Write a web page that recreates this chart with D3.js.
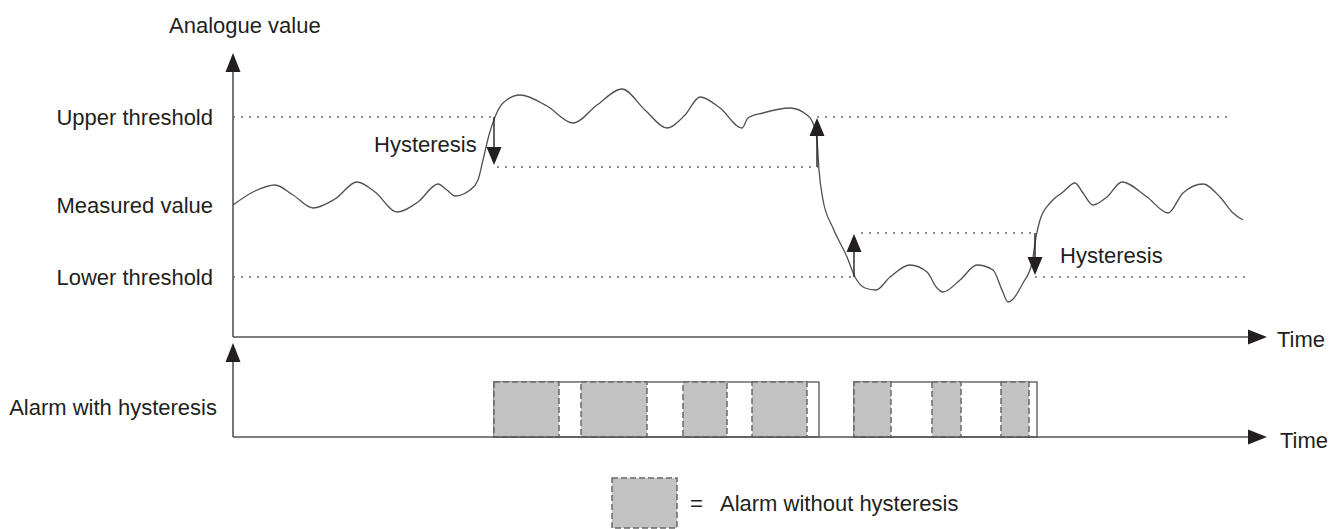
<!DOCTYPE html>
<html>
<head>
<meta charset="utf-8">
<script src="https://cdn.jsdelivr.net/npm/d3@7"></script>
<style>
  html, body { margin: 0; padding: 0; background: #fff; }
  svg { display: block; }
  text { font-family: "Liberation Sans", Arial, Helvetica, sans-serif; font-size: 22px; fill: #231f20; }
</style>
</head>
<body>
<svg id="chart" width="1338" height="529"></svg>
<script>
// ---------- DATA ----------
// measured analogue value over time: [time, value]
const measured = [
  [0,66],[11,73],[21,76],[30,71],[40,64.5],[51,69],[62,77.5],[71,72.5],[82,62.5],[92.5,67.5],
  [102.5,76.5],[107,73.5],[111,70.5],[118.5,73.5],[122.5,78.5],[125,88.5],[128,101],[131,110],
  [135,117],[143.5,121],[157,115.5],[170,107],[182,116],[194.5,124],[206,113.5],[217,104.5],
  [226,111],[233.5,120],[243.5,114.5],[254.5,104.5],[257.5,109.5],[265,112],[278.5,114.5],
  [287,111],[290,107],[292,98.5],[293,83.5],[295,68.5],[300,54.5],[307,40],[311,30],
  [316,24.5],[321.5,23.5],[328.5,30],[338.5,36],[347,32.5],[352,24.5],[355,22.5],[363.5,28.5],
  [372,36],[380,33.5],[384.5,23.5],[387.5,17.5],[395,27],[399.5,37],[401.5,50],[403.5,58.5],
  [408.5,67],[415,72.5],[421,77],[425,72],[430,66],[437,70],[444.5,77.5],[457,70],[467.5,62],
  [475,72],[485,76.5],[493.5,70],[500,62],[505,58.5]
];
const upperThreshold = 110;
const upperReset = 85;
const lowerThreshold = 30;
const lowerReset = 52;

// dotted reference lines: [value, tStart, tEnd]
const refLines = [
  [upperThreshold, 0, 131], [upperThreshold, 292, 499],
  [upperReset, 132, 292.5],
  [lowerThreshold, 0, 310.5], [lowerThreshold, 401, 508.5],
  [lowerReset, 314, 400]
];
// hysteresis arrows: [time, fromValue, toValue]
const hystArrows = [
  [130.5, upperThreshold, upperReset],
  [292, upperReset, upperThreshold],
  [310.5, lowerThreshold, lowerReset],
  [401, lowerReset, lowerThreshold]
];
// alarm intervals [tStart, tEnd]
const alarmWithHyst = [[130.5, 293], [310.5, 402]];
const alarmWithoutHyst = [[130.5,163],[174,207],[225,247],[259.5,287],[310.5,329],[349.5,364],[384,398]];

const yLabels = [
  ["Upper threshold", upperThreshold],
  ["Measured value", 66],
  ["Lower threshold", lowerThreshold]
];

// ---------- SCALES ----------
const svg = d3.select("#chart");
const x = d3.scaleLinear().domain([0, 517]).range([233, 1267]);
const y = d3.scaleLinear().domain([0, 145]).range([337, 47]);
const ya = d3.scaleLinear().domain([0, 1]).range([437, 382]);

const ink = "#231f20";

function arrowHead(g, tx, ty, dir, w, h) {
  let pts;
  if (dir === "up") pts = [[tx, ty], [tx - w/2, ty + h], [tx + w/2, ty + h]];
  else if (dir === "down") pts = [[tx, ty], [tx - w/2, ty - h], [tx + w/2, ty - h]];
  else pts = [[tx, ty], [tx - h, ty - w/2], [tx - h, ty + w/2]];
  g.append("path").attr("d", "M" + pts.map(p => p.join(",")).join("L") + "Z").attr("fill", ink);
}

// ---------- REFERENCE DOTTED LINES ----------
svg.append("g").selectAll("line").data(refLines).join("line")
  .attr("x1", d => x(d[1])).attr("x2", d => x(d[2]))
  .attr("y1", d => y(d[0])).attr("y2", d => y(d[0]))
  .attr("stroke", "#6d6d6d").attr("stroke-width", 1.5)
  .attr("stroke-dasharray", "2 6");

// ---------- AXES ----------
const ax = svg.append("g");
ax.append("line").attr("x1", x(0)).attr("x2", x(0)).attr("y1", y(0)).attr("y2", 66)
  .attr("stroke", "#555").attr("stroke-width", 1.6);
arrowHead(ax, x(0), 53, "up", 15, 19);
ax.append("line").attr("x1", x(0)).attr("x2", 1252).attr("y1", y(0)).attr("y2", y(0))
  .attr("stroke", "#555").attr("stroke-width", 1.6);
arrowHead(ax, 1267, y(0), "right", 15, 19);

ax.append("line").attr("x1", x(0)).attr("x2", x(0)).attr("y1", ya(0)).attr("y2", 356)
  .attr("stroke", "#555").attr("stroke-width", 1.6);
arrowHead(ax, x(0), 343, "up", 15, 19);

// ---------- CURVE ----------
const line = d3.line().x(d => x(d[0])).y(d => y(d[1])).curve(d3.curveMonotoneX);
svg.append("path").datum(measured).attr("d", line)
  .attr("fill", "none").attr("stroke", "#505050").attr("stroke-width", 1.3);

// ---------- HYSTERESIS ARROWS ----------
const ha = svg.append("g");
hystArrows.forEach(([t, v0, v1]) => {
  const up = v1 > v0;
  const tipY = y(v1);
  const h = 18;
  ha.append("line").attr("x1", x(t)).attr("x2", x(t))
    .attr("y1", y(v0)).attr("y2", up ? tipY + h - 2 : tipY - h + 2)
    .attr("stroke", ink).attr("stroke-width", 1.4);
  arrowHead(ha, x(t), up ? tipY + 1 : tipY - 2, up ? "up" : "down", 15, h);
});

// ---------- ALARM BARS ----------
const al = svg.append("g");
al.selectAll("rect.hyst").data(alarmWithHyst).join("rect").attr("class", "hyst")
  .attr("x", d => x(d[0])).attr("width", d => x(d[1]) - x(d[0]))
  .attr("y", ya(1)).attr("height", ya(0) - ya(1))
  .attr("fill", "#fff").attr("stroke", "#555").attr("stroke-width", 1.3);
al.selectAll("rect.nohyst").data(alarmWithoutHyst).join("rect").attr("class", "nohyst")
  .attr("x", d => x(d[0])).attr("width", d => x(d[1]) - x(d[0]))
  .attr("y", ya(1)).attr("height", ya(0) - ya(1))
  .attr("fill", "#c2c2c2").attr("stroke", "#6a6a6a").attr("stroke-width", 1.5)
  .attr("stroke-dasharray", "6 3");
al.append("line").attr("x1", x(0)).attr("x2", 1252).attr("y1", ya(0)).attr("y2", ya(0))
  .attr("stroke", "#555").attr("stroke-width", 1.6);
arrowHead(al, 1267, ya(0), "right", 15, 19);

// ---------- LEGEND ----------
const lg = svg.append("g");
lg.append("rect").attr("x", 612).attr("y", 478).attr("width", 65).attr("height", 50)
  .attr("fill", "#c2c2c2").attr("stroke", "#6a6a6a").attr("stroke-width", 1.5)
  .attr("stroke-dasharray", "6 3");
lg.append("text").attr("x", 690).attr("y", 511).text("=");
lg.append("text").attr("x", 720).attr("y", 511).text("Alarm without hysteresis");

// ---------- TEXT LABELS ----------
const tl = svg.append("g");
tl.append("text").attr("x", 169).attr("y", 33).text("Analogue value");
tl.selectAll("text.yl").data(yLabels).join("text").attr("class", "yl")
  .attr("x", 213).attr("y", d => y(d[1])).attr("dy", "0.35em")
  .attr("text-anchor", "end").text(d => d[0]);
tl.append("text").attr("x", 217).attr("y", 415).attr("text-anchor", "end").text("Alarm with hysteresis");
tl.append("text").attr("x", 1277).attr("y", 347).text("Time");
tl.append("text").attr("x", 1280).attr("y", 448).text("Time");
tl.append("text").attr("x", 374).attr("y", 152).text("Hysteresis");
tl.append("text").attr("x", 1060).attr("y", 263).text("Hysteresis");
</script>
</body>
</html>
